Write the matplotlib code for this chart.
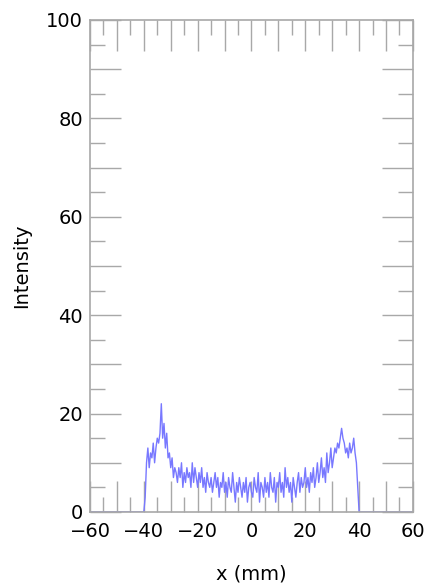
import numpy as np
import matplotlib
matplotlib.use("Agg")
import matplotlib.pyplot as plt
from matplotlib.ticker import MultipleLocator, FuncFormatter

# measured intensity profile, 0.5 mm bins from -39.5 to 39.5 mm
x_start = -39.5
x_step = 0.5
intensity = [
    3, 10, 13, 9, 12, 11, 14, 10, 13, 15,
    14, 16, 22, 15, 18, 13, 16, 11, 12, 9,
    11, 7, 9, 8, 6, 9, 7, 10, 5, 8,
    6, 9, 7, 8, 5, 10, 6, 9, 7, 5,
    8, 6, 9, 5, 7, 4, 8, 6, 5, 7,
    4, 6, 8, 5, 7, 3, 6, 5, 8, 4,
    6, 3, 7, 5, 4, 8, 5, 2, 6, 4,
    7, 5, 3, 6, 4, 7, 2, 5, 6, 4,
    3, 7, 5, 4, 8, 2, 6, 5, 3, 7,
    4, 6, 3, 8, 5, 4, 7, 2, 6, 5,
    8, 4, 6, 3, 9, 5, 7, 4, 6, 2,
    7, 5, 3, 6, 8, 4, 7, 5, 6, 9,
    5, 7, 4, 8, 6, 9, 5, 7, 10, 6,
    8, 11, 7, 9, 6, 12, 8, 10, 13, 9,
    11, 13, 12, 14, 13, 15, 17, 15, 14, 12,
    13, 11, 14, 12, 13, 15, 12, 10, 5,
]
# zero level outside the detector
edge_x = [-60, -40, 40, 60]
edge_y = [0, 0, 0, 0]

x_lim = (-60, 60)
y_lim = (0, 100)
xlabel = "x (mm)"
ylabel = "Intensity"

x_mm = x_start + x_step * np.arange(len(intensity))
xs = np.concatenate([edge_x[:2], x_mm, edge_x[2:]])
ys = np.concatenate([edge_y[:2], intensity, edge_y[2:]])

plt.rcParams['font.family'] = ['DejaVu Sans']

fig = plt.figure(figsize=(4.27, 5.87), dpi=100)
ax = fig.add_axes([0.2108, 0.1278, 0.7562, 0.8382])

ax.plot(xs, ys, color="#7878ff", linewidth=1.0)

ax.set_xlim(*x_lim)
ax.set_ylim(*y_lim)

grey = "#a8a8a8"
for s in ax.spines.values():
    s.set_color(grey)
    s.set_linewidth(1.2)

ax.xaxis.set_major_locator(MultipleLocator(10))
ax.xaxis.set_minor_locator(MultipleLocator(5))
ax.yaxis.set_major_locator(MultipleLocator(10))
ax.yaxis.set_minor_locator(MultipleLocator(5))

def every_20(v, pos):
    if int(round(v)) % 20 == 0:
        return "%d" % round(v) if v >= 0 else "\u2212%d" % abs(round(v))
    return ""

ax.xaxis.set_major_formatter(FuncFormatter(every_20))
ax.yaxis.set_major_formatter(FuncFormatter(every_20))

ax.tick_params(which="both", direction="in", top=True, right=True,
               color=grey, width=1.0, labelsize=14, labelcolor="black")
ax.tick_params(which="major", length=22)
ax.tick_params(which="minor", length=11)
ax.tick_params(axis="x", which="major", pad=7)
ax.tick_params(axis="y", which="major", pad=5)

ax.set_xlabel(xlabel, fontsize=14, labelpad=17)
ax.set_ylabel(ylabel, fontsize=14, labelpad=11)

fig.savefig("out.png", dpi=100)
